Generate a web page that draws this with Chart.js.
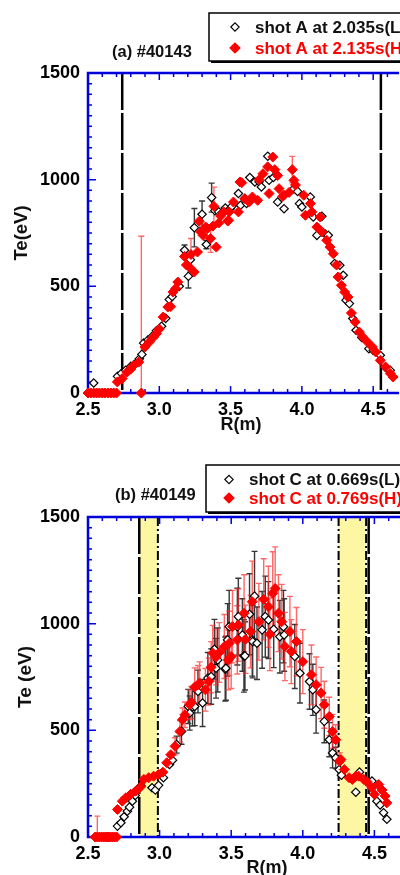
<!DOCTYPE html>
<html>
<head>
<meta charset="utf-8">
<script src="https://cdn.jsdelivr.net/npm/chart.js@4.4.1/dist/chart.umd.min.js"></script>
<style>
  html, body { margin: 0; padding: 0; background: #fff; }
  body { width: 400px; height: 875px; overflow: hidden; position: relative; }
  .panel { position: absolute; left: 0; height: 445px; }
</style>
</head>
<body>
<div class="panel" style="top:0;width:400px"><canvas id="chartA" width="400" height="445"></canvas></div>
<div class="panel" style="top:445px;width:452px"><canvas id="chartB" width="452" height="445"></canvas></div>
<script>
// axis ticks
const R_TICKS = [2.5, 3.0, 3.5, 4.0, 4.5]
const TE_TICKS = [0, 500, 1000, 1500]

// points are [R (m), Te (eV), error bar (eV), 0 = none]
const shotA_L = [
  [2.54,47,0],[2.707,78,0],[2.735,92,0],[2.764,106,0],[2.80,125,0],[2.833,138,0],[2.86,160,0],
  [2.878,181,0],[2.89,234,0],[2.92,248,0],[2.947,263,0],[2.98,292,0],[3.016,313,0],[3.045,350,0],
  [3.07,438,0],[3.09,452,0],[3.14,500,0],[3.177,669,25],[3.204,547,55],[3.218,625,0],[3.246,775,90],
  [3.30,838,62],[3.33,696,20],[3.367,916,68],[3.39,855,0],[3.417,849,0],[3.44,845,0],[3.463,867,0],
  [3.497,864,0],[3.509,875,0],[3.555,935,0],[3.57,880,0],[3.60,911,0],[3.612,888,0],[3.635,1010,0],
  [3.67,989,0],[3.70,990,0],[3.716,966,0],[3.761,1110,0],[3.77,997,0],[3.80,1010,0],[3.83,895,0],
  [3.875,864,0],[3.944,958,0],[3.97,945,0],[3.983,888,0],[4.0,872,0],[4.059,919,0],[4.08,825,0],
  [4.105,739,0],[4.14,828,0],[4.16,748,0],[4.185,739,0],[4.23,607,0],[4.266,599,0],[4.29,552,0],
  [4.31,435,0],[4.333,419,0],[4.357,349,0],[4.38,294,0],[4.42,260,0],[4.47,208,0],[4.50,200,0],
  [4.55,177,0],[4.587,120,0],[4.62,106,0]
]
const shotA_H = [
  [2.50,0,0],[2.52,0,0],[2.54,0,0],[2.56,0,0],[2.58,0,0],[2.60,0,0],[2.62,0,0],[2.64,0,0],[2.66,0,0],
  [2.68,0,0],[2.70,0,0],[2.706,52,0],[2.74,68,0],[2.775,98,0],[2.80,112,0],[2.82,130,0],[2.856,145,0],
  [2.874,0,735],[2.90,216,0],[2.93,239,0],[2.96,262,0],[2.98,278,0],[3.00,300,0],[3.027,356,0],
  [3.06,403,0],[3.08,405,0],[3.096,473,0],[3.115,490,0],[3.13,520,0],[3.177,640,0],[3.19,600,0],
  [3.21,591,0],[3.222,649,75],[3.245,567,0],[3.268,661,0],[3.28,805,0],[3.29,755,0],[3.307,739,0],
  [3.325,778,0],[3.337,771,0],[3.36,724,65],[3.375,782,0],[3.383,875,90],[3.40,684,0],[3.417,797,0],
  [3.43,830,0],[3.452,849,0],[3.48,806,0],[3.486,810,0],[3.49,849,0],[3.52,895,0],[3.555,849,0],
  [3.566,989,0],[3.578,986,0],[3.60,911,0],[3.63,895,0],[3.653,919,0],[3.69,903,0],[3.70,1000,0],
  [3.727,1028,0],[3.76,1060,0],[3.77,935,0],[3.796,1106,0],[3.81,1047,0],[3.83,1019,0],[3.84,958,0],
  [3.865,922,0],[3.875,927,0],[3.91,940,0],[3.933,1047,62],[3.944,997,0],[3.955,975,0],[4.013,927,0],
  [4.025,833,0],[4.06,888,0],[4.07,849,0],[4.105,778,0],[4.128,825,0],[4.14,755,0],[4.174,716,0],
  [4.197,684,0],[4.22,653,0],[4.243,600,0],[4.254,544,0],[4.277,505,0],[4.30,473,0],[4.323,450,0],
  [4.347,375,0],[4.374,333,0],[4.403,286,0],[4.426,263,0],[4.46,239,0],[4.494,216,0],[4.518,192,0],
  [4.55,153,0],[4.587,122,0],[4.62,91,0],[4.64,75,0]
]
const shotC_L = [
  [2.706,51,0],[2.73,67,0],[2.752,95,0],[2.775,121,0],[2.79,140,0],[2.81,168,0],[2.83,195,0],
  [2.844,223,0],[2.87,240,0],[2.947,231,0],[2.97,220,0],[2.993,242,0],[3.027,278,0],[3.069,340,0],
  [3.09,360,0],[3.119,433,40],[3.153,495,60],[3.20,612,80],[3.21,581,80],[3.23,610,90],[3.245,612,90],
  [3.268,682,100],[3.30,628,110],[3.337,745,120],[3.36,752,130],[3.383,880,140],[3.394,791,140],
  [3.406,830,150],[3.458,787,150],[3.463,791,150],[3.475,924,170],[3.486,986,170],[3.543,986,180],
  [3.55,1033,180],[3.578,947,170],[3.589,849,170],[3.596,849,160],[3.628,1044,190],[3.647,924,170],
  [3.65,916,170],[3.663,1129,210],[3.68,908,170],[3.716,971,180],[3.738,1033,190],[3.76,1017,180],
  [3.797,974,180],[3.84,939,170],[3.865,986,170],[3.87,947,170],[3.944,846,150],[3.98,768,140],
  [4.047,729,130],[4.07,690,120],[4.093,597,110],[4.15,542,100],[4.185,456,80],[4.208,394,70],
  [4.23,371,50],[4.254,316,0],[4.27,290,0],[4.37,210,0],[4.396,304,0],[4.483,262,0],[4.518,168,0],
  [4.54,150,0],[4.564,114,0],[4.587,83,0]
]
const shotC_H = [
  [2.55,0,0],[2.565,0,98],[2.58,0,0],[2.595,0,0],[2.61,0,0],[2.625,0,0],[2.64,0,0],[2.655,0,0],
  [2.67,0,0],[2.685,0,0],[2.70,0,0],[2.706,129,0],[2.74,168,0],[2.764,184,0],[2.798,200,0],
  [2.833,215,0],[2.867,235,0],[2.89,270,0],[2.924,278,0],[2.958,285,0],[2.993,293,0],[3.023,304,0],
  [3.05,348,0],[3.078,386,0],[3.108,425,40],[3.142,495,50],[3.16,550,55],[3.177,573,60],[3.21,620,70],
  [3.222,631,75],[3.245,703,90],[3.268,714,90],[3.28,721,100],[3.32,690,100],[3.344,729,110],
  [3.36,796,120],[3.371,862,130],[3.394,843,130],[3.417,865,140],[3.452,893,150],[3.48,830,140],
  [3.486,908,150],[3.50,846,150],[3.509,986,170],[3.543,924,160],[3.55,994,170],[3.59,1049,180],
  [3.60,927,160],[3.635,963,170],[3.647,1103,190],[3.693,1009,180],[3.727,1114,190],[3.76,1079,190],
  [3.77,950,170],[3.79,1142,195],[3.807,1165,195],[3.83,1049,180],[3.853,1009,175],[3.875,893,160],
  [3.91,963,165],[3.92,869,150],[3.956,916,160],[4.0,822,150],[4.06,760,140],[4.093,714,130],
  [4.128,675,120],[4.15,620,110],[4.185,565,90],[4.208,495,80],[4.23,456,70],[4.257,355,40],
  [4.266,363,0],[4.29,316,0],[4.323,278,0],[4.346,270,0],[4.37,285,0],[4.39,285,0],[4.426,270,0],
  [4.45,258,0],[4.483,231,0],[4.50,200,0],[4.53,246,0],[4.553,220,0],[4.575,192,0],[4.587,160,0]
]

// vertical markers (R in m)
const solidA = [2.74, 4.554]
const solidC = [2.858, 4.46]
const dashC = [2.988, 4.25, 4.442]
const bandsC = [[2.858, 2.988], [4.25, 4.442]]

const FAMILY = '"Liberation Sans", Arial, sans-serif'
const BLUE = '#0000dd'

function drawVLine(ctx, x, a, width, dash) {
  ctx.lineWidth = width
  ctx.setLineDash(dash)
  ctx.beginPath()
  ctx.moveTo(x, a.top)
  ctx.lineTo(x, a.bottom)
  ctx.stroke()
}

function makeDeco(cfg) {
  return {
    id: 'deco',
    beforeDatasetsDraw(chart) {
      const {ctx, chartArea: a} = chart
      const x = chart.scales.x, y = chart.scales.y
      ctx.save()

      // shaded bands
      ctx.fillStyle = '#fdf7a3'
      cfg.bands.forEach(([r0, r1]) => {
        const x0 = x.getPixelForValue(r0), x1 = x.getPixelForValue(r1)
        ctx.fillRect(x0, a.top, x1 - x0, a.bottom - a.top)
      })

      ctx.strokeStyle = '#000'
      cfg.solid.forEach(r => drawVLine(ctx, x.getPixelForValue(r), a, 2.5, [37, 3]))
      cfg.dashed.forEach(r => drawVLine(ctx, x.getPixelForValue(r), a, 2, [9, 3, 2, 3]))
      ctx.setLineDash([])

      // blue frame + inward ticks
      ctx.strokeStyle = BLUE
      ctx.lineWidth = 2.5
      ctx.beginPath()
      ctx.moveTo(a.right + 5, a.top); ctx.lineTo(a.left, a.top)
      ctx.lineTo(a.left, a.bottom); ctx.lineTo(a.right + 5, a.bottom)
      ctx.stroke()

      ctx.lineWidth = 1.5
      ctx.beginPath()
      for (let i = 25; i <= 50; i++) {
        const px = x.getPixelForValue(i / 10)
        const len = i % 5 === 0 ? 7 : 4
        ctx.moveTo(px, a.bottom); ctx.lineTo(px, a.bottom - len)
        ctx.moveTo(px, a.top); ctx.lineTo(px, a.top + len)
      }
      for (let v = 0; v <= 1500; v += 50) {
        const py = y.getPixelForValue(v)
        const len = v % 500 === 0 ? 8 : 4
        ctx.moveTo(a.left, py); ctx.lineTo(a.left + len, py)
      }
      ctx.stroke()

      // error bars, black series first then red
      ctx.beginPath()
      ctx.rect(a.left, a.top, a.right - a.left + 10, a.bottom - a.top)
      ctx.clip()
      ;[1, 0].forEach(di => {
        const ds = chart.data.datasets[di]
        ctx.strokeStyle = ds.barColor
        ctx.lineWidth = 1.4
        ctx.beginPath()
        ds.data.forEach((p, i) => {
          const e = ds.errs[i]
          if (!e) return
          const px = x.getPixelForValue(p.x)
          const y0 = y.getPixelForValue(p.y + e), y1 = y.getPixelForValue(p.y - e)
          ctx.moveTo(px, y0); ctx.lineTo(px, y1)
          ctx.moveTo(px - 3, y0); ctx.lineTo(px + 3, y0)
          ctx.moveTo(px - 3, y1); ctx.lineTo(px + 3, y1)
        })
        ctx.stroke()
      })
      ctx.restore()
    },
    afterDraw(chart) {
      const ctx = chart.ctx
      const L = cfg.legend
      ctx.save()
      // panel title
      ctx.fillStyle = '#111'
      ctx.font = 'bold 16.5px ' + FAMILY
      ctx.textBaseline = 'middle'
      ctx.textAlign = 'left'
      ctx.fillText(cfg.title, cfg.titleX, cfg.titleY)

      // legend box with shadow
      ctx.fillStyle = '#000'
      ctx.fillRect(L.x + 2, L.y + 2, 240, L.h)
      ctx.fillStyle = '#fff'
      ctx.fillRect(L.x, L.y, 240, L.h)
      ctx.strokeStyle = '#000'
      ctx.lineWidth = 1.5
      ctx.strokeRect(L.x, L.y, 240, L.h)

      const rows = [chart.data.datasets[1], chart.data.datasets[0]]
      rows.forEach((ds, k) => {
        const ry = L.rows[k]
        ctx.fillStyle = ds.pointBackgroundColor
        ctx.strokeStyle = ds.pointBorderColor
        ctx.lineWidth = 1.1
        Chart.helpers.drawPoint(ctx, {pointStyle: 'rectRot', radius: ds.pointRadius, borderWidth: 1.1}, L.markX, ry)
        ctx.fillStyle = ds.textColor
        ctx.font = 'bold 17px ' + FAMILY
        ctx.fillText(ds.label, L.textX, ry + 1)
      })
      ctx.restore()
    }
  }
}

function panel(id, cfg) {
  const font = {family: FAMILY, size: 18, weight: 'bold'}
  return new Chart(document.getElementById(id), {
    type: 'scatter',
    data: {
      datasets: [
        {
          label: cfg.labels[1],
          data: cfg.H.map(p => ({x: p[0], y: p[1]})),
          errs: cfg.H.map(p => p[2]),
          barColor: 'rgba(255,40,40,0.7)',
          textColor: '#ff0000',
          pointStyle: 'rectRot',
          pointRadius: 5,
          pointBackgroundColor: '#ff0000',
          pointBorderColor: '#ff0000',
          pointBorderWidth: 1,
          clip: false,
          order: 0
        },
        {
          label: cfg.labels[0],
          data: cfg.L.map(p => ({x: p[0], y: p[1]})),
          errs: cfg.L.map(p => p[2]),
          barColor: 'rgba(20,20,20,0.85)',
          textColor: '#111',
          pointStyle: 'rectRot',
          pointRadius: 4.2,
          pointBackgroundColor: '#ffffff',
          pointBorderColor: '#000000',
          pointBorderWidth: 1.2,
          clip: false,
          order: 1
        }
      ]
    },
    options: {
      responsive: false,
      animation: false,
      events: [],
      layout: {padding: {top: cfg.top, left: 0, right: 0, bottom: 0}},
      plugins: {legend: {display: false}, tooltip: {enabled: false}, title: {display: false}},
      scales: {
        x: {
          type: 'linear', min: 2.5, max: cfg.rMax,
          afterBuildTicks: s => { s.ticks = R_TICKS.map(v => ({value: v})) },
          ticks: {callback: v => v.toFixed(1), font, color: '#000', padding: 6, maxRotation: 0, autoSkip: false},
          grid: {display: false, drawTicks: false},
          border: {display: false},
          title: {display: true, text: 'R(m)', font, color: '#111', padding: {top: 0, bottom: cfg.xTitlePad}},
          afterFit: s => { s.height = 445 - cfg.top - 320 }
        },
        y: {
          type: 'linear', min: 0, max: 1500,
          afterBuildTicks: s => { s.ticks = TE_TICKS.map(v => ({value: v})) },
          ticks: {callback: v => String(v), font, color: '#000', padding: 8, autoSkip: false},
          grid: {display: false, drawTicks: false},
          border: {display: false},
          title: {display: true, text: cfg.yTitle, font: {family: FAMILY, size: cfg.yTitleSize, weight: 'bold'}, color: '#111', padding: {top: cfg.yTitlePad, bottom: 0}},
          afterFit: s => { s.width = 88 }
        }
      }
    },
    plugins: [makeDeco(cfg)]
  })
}

panel('chartA', {
  L: shotA_L, H: shotA_H, rMax: 4.646,
  labels: ['shot A at 2.035s(L)', 'shot A at 2.135s(H)'],
  title: '(a) #40143', titleX: 112, titleY: 52,
  top: 73, yTitle: 'Te(eV)', yTitleSize: 18.5, yTitlePad: 11, xTitlePad: 9,
  solid: solidA, dashed: [], bands: [],
  legend: {x: 209, y: 13, h: 48, markX: 235, textX: 255, rows: [27, 48]}
})

panel('chartB', {
  L: shotC_L, H: shotC_H, rMax: 5.0,
  labels: ['shot C at 0.669s(L)', 'shot C at 0.769s(H)'],
  title: '(b) #40149', titleX: 115, titleY: 50,
  top: 72, yTitle: 'Te (eV)', yTitleSize: 19, yTitlePad: 14, xTitlePad: 11,
  solid: solidC, dashed: dashC, bands: bandsC,
  legend: {x: 206, y: 20, h: 47, markX: 229, textX: 249, rows: [34.5, 53]}
})
</script>
</body>
</html>
